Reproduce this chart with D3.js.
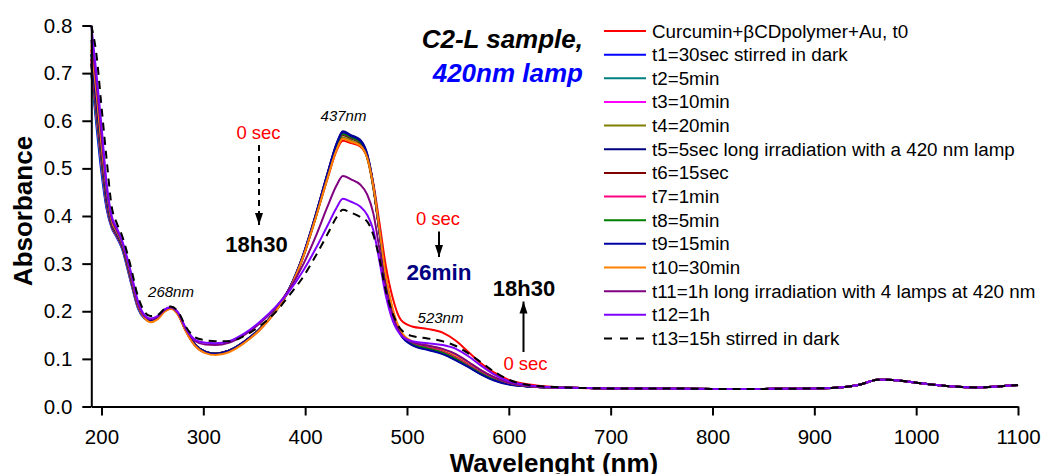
<!DOCTYPE html>
<html>
<head>
<meta charset="utf-8">
<script src="https://cdn.jsdelivr.net/npm/d3@7"></script>
<style>
  body { margin: 0; background: #fff; }
  svg { display: block; }
  text { font-family: "Liberation Sans", Arial, sans-serif; }
</style>
</head>
<body>
<svg id="chart" width="1041" height="474"></svg>
<script>
// Wavelength grid (nm) for the part of the spectrum where the series differ
const wlHead = [190, 195, 200, 205, 210, 215, 220, 228, 236, 242, 248, 255, 262, 268, 275, 283, 292, 302, 312, 325,
                340, 355, 370, 385, 398, 410, 422, 431, 437, 445, 454, 461, 467, 473, 479, 486, 494, 505, 520, 535,
                548, 560, 572, 585, 600, 620, 645];
// Common baseline beyond 645 nm (all spectra coincide there)
const wlTail  = [670, 700, 750, 800, 850, 900, 930, 945, 955, 962, 972, 985, 1000, 1015, 1030, 1045, 1060, 1080, 1100];
const absTail = [0.039, 0.038, 0.038, 0.037, 0.037, 0.038, 0.041, 0.046, 0.053, 0.056, 0.056, 0.054, 0.050, 0.046, 0.043, 0.041, 0.040, 0.042, 0.045];

const absT0  = [0.75,0.65,0.545,0.45,0.388,0.366,0.344,0.281,0.212,0.187,0.179,0.185,0.200,0.206,0.194,0.158,0.128,0.113,0.110,0.116,0.134,0.160,0.197,0.248,0.314,0.394,0.479,0.538,0.558,0.553,0.546,0.522,0.468,0.385,0.298,0.228,0.182,0.168,0.163,0.155,0.138,0.115,0.092,0.072,0.056,0.046,0.041];
const absT1  = [0.70,0.59,0.49,0.415,0.375,0.355,0.332,0.268,0.205,0.185,0.179,0.186,0.202,0.207,0.195,0.158,0.128,0.114,0.111,0.117,0.136,0.162,0.199,0.250,0.317,0.398,0.488,0.551,0.575,0.567,0.557,0.527,0.462,0.366,0.268,0.196,0.150,0.131,0.121,0.112,0.099,0.084,0.069,0.056,0.047,0.042,0.040];
const absT2  = [0.70,0.60,0.50,0.42,0.377,0.357,0.334,0.27,0.206,0.186,0.180,0.186,0.202,0.207,0.195,0.159,0.129,0.114,0.111,0.117,0.135,0.161,0.198,0.248,0.315,0.396,0.485,0.546,0.570,0.563,0.553,0.524,0.460,0.366,0.270,0.198,0.152,0.133,0.124,0.115,0.102,0.087,0.071,0.058,0.048,0.042,0.040];
const absT3  = [0.72,0.61,0.51,0.425,0.378,0.358,0.336,0.272,0.208,0.187,0.180,0.186,0.202,0.208,0.195,0.159,0.129,0.114,0.111,0.117,0.136,0.162,0.199,0.249,0.317,0.399,0.488,0.550,0.573,0.566,0.556,0.527,0.463,0.368,0.271,0.199,0.153,0.134,0.125,0.116,0.103,0.088,0.072,0.058,0.048,0.042,0.040];
const absT4  = [0.72,0.61,0.515,0.428,0.379,0.359,0.337,0.273,0.209,0.187,0.180,0.186,0.202,0.207,0.195,0.159,0.129,0.114,0.111,0.117,0.135,0.161,0.197,0.247,0.313,0.394,0.481,0.542,0.565,0.558,0.549,0.521,0.458,0.366,0.271,0.200,0.154,0.134,0.125,0.116,0.103,0.088,0.072,0.058,0.048,0.042,0.040];
const absT5  = [0.72,0.62,0.52,0.43,0.38,0.36,0.338,0.275,0.21,0.188,0.181,0.187,0.202,0.208,0.196,0.160,0.130,0.115,0.111,0.117,0.136,0.162,0.199,0.250,0.318,0.400,0.490,0.553,0.578,0.570,0.560,0.530,0.465,0.370,0.272,0.200,0.153,0.130,0.120,0.111,0.098,0.084,0.069,0.056,0.047,0.042,0.040];
const absT6  = [0.73,0.63,0.525,0.435,0.382,0.361,0.339,0.276,0.211,0.188,0.181,0.187,0.202,0.208,0.196,0.160,0.130,0.115,0.111,0.117,0.135,0.161,0.198,0.248,0.315,0.396,0.485,0.547,0.570,0.563,0.553,0.524,0.461,0.367,0.271,0.199,0.153,0.133,0.124,0.115,0.102,0.087,0.071,0.058,0.048,0.042,0.040];
const absT7  = [0.73,0.63,0.53,0.437,0.383,0.362,0.34,0.277,0.211,0.188,0.181,0.187,0.202,0.208,0.196,0.160,0.130,0.115,0.111,0.117,0.136,0.162,0.199,0.249,0.316,0.398,0.487,0.549,0.572,0.565,0.555,0.526,0.462,0.368,0.271,0.199,0.153,0.133,0.124,0.115,0.102,0.087,0.071,0.058,0.048,0.042,0.040];
const absT8  = [0.74,0.64,0.535,0.44,0.385,0.363,0.341,0.278,0.212,0.189,0.181,0.187,0.202,0.208,0.196,0.160,0.130,0.115,0.111,0.117,0.136,0.162,0.199,0.249,0.316,0.398,0.487,0.549,0.572,0.565,0.555,0.526,0.462,0.367,0.270,0.198,0.152,0.131,0.122,0.113,0.100,0.085,0.070,0.057,0.047,0.042,0.040];
const absT9  = [0.74,0.64,0.54,0.443,0.386,0.364,0.342,0.279,0.212,0.189,0.181,0.187,0.202,0.208,0.196,0.160,0.130,0.115,0.111,0.117,0.136,0.162,0.199,0.250,0.318,0.400,0.489,0.552,0.576,0.568,0.558,0.528,0.463,0.367,0.269,0.197,0.150,0.129,0.119,0.110,0.097,0.083,0.068,0.055,0.046,0.042,0.040];
const absT10 = [0.76,0.66,0.55,0.455,0.39,0.367,0.345,0.283,0.213,0.187,0.177,0.183,0.199,0.205,0.193,0.157,0.127,0.112,0.108,0.114,0.133,0.160,0.197,0.248,0.314,0.394,0.480,0.540,0.562,0.556,0.548,0.522,0.462,0.371,0.277,0.205,0.158,0.137,0.128,0.120,0.108,0.093,0.077,0.062,0.050,0.043,0.040];
const absT11 = [0.77,0.68,0.57,0.46,0.395,0.37,0.347,0.285,0.215,0.19,0.183,0.188,0.203,0.208,0.197,0.162,0.137,0.130,0.129,0.134,0.150,0.174,0.205,0.248,0.298,0.355,0.420,0.465,0.484,0.477,0.466,0.445,0.405,0.33,0.25,0.19,0.152,0.135,0.128,0.121,0.110,0.094,0.077,0.062,0.050,0.043,0.040];
const absT12 = [0.80,0.70,0.59,0.47,0.40,0.375,0.35,0.29,0.22,0.193,0.185,0.19,0.204,0.209,0.198,0.164,0.140,0.134,0.133,0.137,0.153,0.177,0.207,0.244,0.285,0.330,0.380,0.418,0.436,0.430,0.420,0.402,0.37,0.305,0.235,0.18,0.150,0.137,0.133,0.129,0.121,0.106,0.087,0.068,0.053,0.044,0.040];
const absT13 = [0.80,0.74,0.63,0.52,0.42,0.385,0.36,0.30,0.23,0.20,0.19,0.192,0.205,0.210,0.200,0.167,0.145,0.139,0.137,0.137,0.148,0.168,0.196,0.235,0.272,0.315,0.362,0.398,0.413,0.407,0.398,0.388,0.36,0.31,0.245,0.195,0.162,0.148,0.143,0.137,0.127,0.112,0.094,0.074,0.056,0.045,0.041];

const seriesLabels = [
  "Curcumin+\u03b2CDpolymer+Au, t0",
  "t1=30sec stirred in dark",
  "t2=5min",
  "t3=10min",
  "t4=20min",
  "t5=5sec long irradiation with a 420 nm lamp",
  "t6=15sec",
  "t7=1min",
  "t8=5min",
  "t9=15min",
  "t10=30min",
  "t11=1h long irradiation with 4 lamps at 420 nm",
  "t12=1h",
  "t13=15h stirred in dark"
];
const seriesColors = ["#ff0000", "#0000ff", "#008080", "#ff00ff", "#808000", "#000080", "#800000",
                      "#ff0080", "#008000", "#0000a0", "#ff8000", "#800080", "#8000ff", "#000000"];
const seriesHeads = [absT0, absT1, absT2, absT3, absT4, absT5, absT6, absT7, absT8, absT9, absT10, absT11, absT12, absT13];

const xMajorTicks = [200, 300, 400, 500, 600, 700, 800, 900, 1000, 1100];
const xMinorTicks = [250, 350, 450, 550, 650, 750, 850, 950, 1050];
const yMajorTicks = [0.0, 0.1, 0.2, 0.3, 0.4, 0.5, 0.6, 0.7, 0.8];
const yMinorTicks = [0.05, 0.15, 0.25, 0.35, 0.45, 0.55, 0.65, 0.75];

const svg = d3.select("#chart");
const x = d3.scaleLinear().domain([190, 1100]).range([91.3, 1018]);
const y = d3.scaleLinear().domain([0, 0.8]).range([406.5, 25.5]);

const series = seriesHeads.map((head, i) => ({
  label: seriesLabels[i],
  color: seriesColors[i],
  dashed: i === 13,
  points: wlHead.map((w, j) => [w, head[j]]).concat(wlTail.map((w, j) => [w, absTail[j]]))
}));

// Spectra
const line = d3.line().x(d => x(d[0])).y(d => y(d[1])).curve(d3.curveMonotoneX);
svg.append("g").selectAll("path").data(series).join("path")
  .attr("d", d => line(d.points))
  .attr("fill", "none")
  .attr("stroke", d => d.color)
  .attr("stroke-width", 2)
  .attr("stroke-dasharray", d => d.dashed ? "8,6" : null)
  .attr("stroke-linejoin", "round");

// Axes
const axisFont = 20.5;
const gx = svg.append("g").attr("transform", `translate(0,${y(0)})`);
gx.call(d3.axisBottom(x).tickValues(xMinorTicks).tickSize(5).tickFormat(""));
gx.call(d3.axisBottom(x).tickValues(xMajorTicks).tickSize(9).tickSizeOuter(0).tickPadding(13.5).tickFormat(d3.format("d")));
const gy = svg.append("g").attr("transform", `translate(${x(190)},0)`);
gy.call(d3.axisLeft(y).tickValues(yMinorTicks).tickSize(5).tickFormat(""));
gy.call(d3.axisLeft(y).tickValues(yMajorTicks).tickSize(9).tickSizeOuter(0).tickPadding(10).tickFormat(d3.format(".1f")));
svg.selectAll(".domain").attr("stroke", "#000").attr("stroke-width", 2);
svg.selectAll(".tick line").attr("stroke", "#000").attr("stroke-width", 2);
svg.selectAll(".tick text").attr("font-size", axisFont).attr("fill", "#000")
  .style("font-family", '"Liberation Sans", Arial, sans-serif');

svg.append("text").attr("x", 554).attr("y", 472).attr("text-anchor", "middle")
  .attr("font-size", 26).attr("font-weight", "bold").text("Wavelenght (nm)");
svg.append("text").attr("transform", "translate(32,211) rotate(-90)").attr("text-anchor", "middle")
  .attr("font-size", 26).attr("font-weight", "bold").text("Absorbance");

// Title
svg.append("text").attr("x", 583).attr("y", 48).attr("text-anchor", "end")
  .attr("font-size", 26).attr("font-weight", "bold").attr("font-style", "italic").text("C2-L sample,");
svg.append("text").attr("x", 583).attr("y", 82).attr("text-anchor", "end")
  .attr("font-size", 26).attr("font-weight", "bold").attr("font-style", "italic").attr("fill", "#0000ff").text("420nm lamp");

// Legend
const legend = svg.append("g");
const rows = legend.selectAll("g").data(series).join("g")
  .attr("transform", (d, i) => `translate(604,${31 + i * 23.65})`);
rows.append("line").attr("x1", 0).attr("x2", 42).attr("y1", 0).attr("y2", 0)
  .attr("stroke", d => d.color).attr("stroke-width", 2)
  .attr("stroke-dasharray", d => d.dashed ? "8,8" : null);
rows.append("text").attr("x", 48).attr("y", 6.5).attr("font-size", 18.8).text(d => d.label);

// Peak labels
const peakLabels = [
  { text: "437nm", x: 343.5, y: 121 },
  { text: "268nm", x: 171, y: 297 },
  { text: "523nm", x: 440.5, y: 323 }
];
svg.append("g").selectAll("text").data(peakLabels).join("text")
  .attr("x", d => d.x).attr("y", d => d.y).attr("text-anchor", "middle")
  .attr("font-size", 15).attr("font-style", "italic").text(d => d.text);

// Time-evolution annotations
const defs = svg.append("defs");
defs.append("marker").attr("id", "arrowHead").attr("viewBox", "0 0 12 10")
  .attr("refX", 12).attr("refY", 5).attr("markerWidth", 12).attr("markerHeight", 10)
  .attr("markerUnits", "userSpaceOnUse").attr("orient", "auto")
  .append("path").attr("d", "M0,1 L12,5 L0,9 Z").attr("fill", "#000");

const arrows = [
  { x: 259, y1: 145, y2: 225, dashed: true },
  { x: 439, y1: 231.5, y2: 257, dashed: false },
  { x: 523.5, y1: 352, y2: 301.5, dashed: false }
];
svg.append("g").selectAll("line").data(arrows).join("line")
  .attr("x1", d => d.x).attr("x2", d => d.x).attr("y1", d => d.y1).attr("y2", d => d.y2)
  .attr("stroke", "#000").attr("stroke-width", 2)
  .attr("stroke-dasharray", d => d.dashed ? "6,5" : null)
  .attr("marker-end", "url(#arrowHead)");

const notes = [
  { text: "0 sec", x: 258.5, y: 139, size: 18.5, bold: false, color: "#ff0000" },
  { text: "18h30", x: 256.5, y: 252, size: 22, bold: true, color: "#000000" },
  { text: "0 sec", x: 438, y: 225, size: 18.5, bold: false, color: "#ff0000" },
  { text: "26min", x: 439, y: 280, size: 22.5, bold: true, color: "#000080" },
  { text: "18h30", x: 524, y: 296, size: 22, bold: true, color: "#000000" },
  { text: "0 sec", x: 525.5, y: 370, size: 18.5, bold: false, color: "#ff0000" }
];
svg.append("g").selectAll("text").data(notes).join("text")
  .attr("x", d => d.x).attr("y", d => d.y).attr("text-anchor", "middle")
  .attr("font-size", d => d.size).attr("font-weight", d => d.bold ? "bold" : "normal")
  .attr("fill", d => d.color).text(d => d.text);
</script>
</body>
</html>
